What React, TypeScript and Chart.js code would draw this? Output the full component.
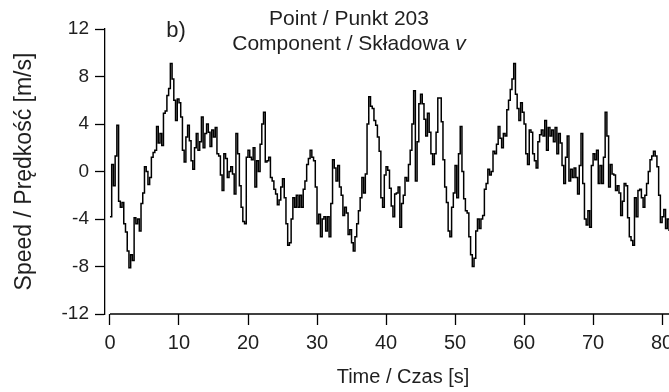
import React, { useEffect, useRef } from "react";
import { Chart, registerables } from "chart.js";

Chart.register(...registerables);

// Sampling step of the record [s]
const SAMPLE_STEP_S = 0.25;

// Speed v [m/s], 4 samples per second
const SPEED_00_20 = [
  -3.8, 0.6, -1.2, 1.3,
  3.9, -2.5, -3.0, -2.6,
  -4.4, -5.1, -6.7, -8.1,
  -7.0, -7.5, -3.9, -4.4,
  -4.0, -5.0, -2.7, -1.8,
  0.4, 0.0, -1.1, -0.5,
  1.2, 1.6, 1.8, 3.8,
  2.4, 3.2, 2.2, 4.9,
  5.1, 6.4, 7.0, 9.1,
  7.8, 6.0, 4.3, 6.1,
  5.8, 4.6, 1.8, 0.8,
  2.9, 3.9, 2.6, 0.9,
  0.2, 2.0, 3.2, 1.8,
  2.5, 4.6, 2.0, 3.2,
  4.0, 3.3, 2.1, 3.5,
  2.9, 3.7, 1.5, 1.3,
  -0.3, -1.6, 1.5, 1.1,
  -0.5, 0.0, 0.4, -0.2,
  -1.9, 3.2, 1.5, -1.2,
  -3.0, -4.2, -4.4, 1.2,
];

const SPEED_20_40 = [
  1.8, 1.2, 1.0, 2.0,
  -1.3, 0.9, 0.0, 2.3,
  4.0, 5.0, 0.8, 0.9,
  1.2, -0.5, -0.8, -1.5,
  -1.9, -2.8, -2.4, -1.3,
  -0.6, -2.2, -4.4, -6.2,
  -6.0, -4.0, -2.2, -3.0,
  -2.0, -3.0, -2.0, -3.0,
  -1.5, -0.8, 0.6, 1.1,
  1.8, 1.2, 0.9, -1.3,
  -4.4, -3.6, -5.5, -4.0,
  -3.8, -5.0, -3.8, -5.5,
  -2.7, 1.0, 0.3, -0.8,
  0.5, -1.3, -2.0, -3.7,
  -3.0, -3.5, -5.3, -4.9,
  -6.0, -6.7, -5.5, -4.4,
  -3.3, -2.2, -0.5, -1.8,
  -0.2, 4.0, 6.3, 5.5,
  5.3, 4.3, 3.9, 2.9,
  1.7, -2.2, -3.0, -0.3,
];

const SPEED_40_60 = [
  0.4, 0.1, -1.4, -2.9,
  -3.8, -1.9, -1.8, -1.3,
  -4.7, -2.7, -2.0, -0.5,
  -0.8, 0.6, 1.8, 4.0,
  6.8, -0.8, 2.5, 5.7,
  6.5, 5.7, 4.4, 3.0,
  4.9, 3.3, 1.5, 0.6,
  1.5, 3.3, 6.2, 6.2,
  4.2, 1.0, -1.3, -2.6,
  -5.0, -5.5, -3.0, -1.8,
  0.5, -2.2, 1.5, 3.8,
  0.0, -2.3, -3.3, -3.5,
  -5.5, -7.0, -8.0, -7.3,
  -5.0, -4.0, -4.8, -4.0,
  -3.7, -1.5, -1.0, 0.2,
  -0.3, 0.0, 1.7, 1.5,
  2.3, 3.8, 2.8, 2.0,
  3.2, 3.0, 5.2, 6.0,
  6.9, 7.8, 9.1, 6.5,
  5.3, 4.3, 5.8, 5.0,
];

const SPEED_60_81 = [
  4.0, 1.5, 0.6, 3.5,
  3.3, 1.5, 0.9, 0.3,
  2.5, 3.1, 3.5, 3.0,
  4.3, 1.8, 3.7, 3.0,
  3.5, 2.5, 3.7, 1.5,
  3.2, 2.4, 0.5, -1.0,
  1.2, 3.0, -0.8, 0.2,
  -0.5, 0.3, -0.5, -1.9,
  0.5, 3.2, -1.0, -4.0,
  -4.5, -3.3, -4.7, 0.5,
  1.5, 1.0, 1.8, -1.0,
  0.5, -1.0, 1.2, 5.0,
  3.0, -1.3, 0.6, -0.2,
  -0.3, -1.6, -1.2, -1.8,
  -3.7, -2.5, -1.0, -1.2,
  -3.9, -5.5, -5.8, -6.2,
  -2.2, -3.8, -1.6, -1.5,
  -2.2, -3.0, -2.0, -1.0,
  0.0, 1.0, 1.3, 1.7,
  1.3, 0.4, -2.0, -4.3,
  -3.8, -3.2, -4.8, -4.0,
  -5.0,
];

const X_TICKS = [0, 10, 20, 30, 40, 50, 60, 70, 80];
const Y_TICKS = [-12, -8, -4, 0, 4, 8, 12];
const X_MIN = -0.72;
const X_MAX = 81;
const Y_MIN = -12;
const Y_MAX = 12;

const PANEL_LABEL = "b)";
const TITLE_LINE_1 = "Point / Punkt 203";
const TITLE_LINE_2 = "Component / Składowa ";
const TITLE_VAR = "v";
const X_TITLE = "Time / Czas [s]";
const Y_TITLE = "Speed / Prędkość [m/s]";

const FONT = '"Liberation Sans", Arial, Helvetica, sans-serif';
const TEXT_COLOR = "#1f1f1f";

const annotationPlugin = {
  id: "panelAnnotations",
  afterDraw(chart: any) {
    const { ctx, chartArea, scales } = chart;
    const x = scales.x;
    ctx.save();
    // x-axis line, starting at t = 0
    ctx.strokeStyle = "#000";
    ctx.lineWidth = 1.3;
    ctx.beginPath();
    ctx.moveTo(x.getPixelForValue(0), chartArea.bottom);
    ctx.lineTo(chartArea.right, chartArea.bottom);
    ctx.stroke();

    ctx.fillStyle = TEXT_COLOR;
    ctx.textBaseline = "middle";

    // panel label
    ctx.font = `22px ${FONT}`;
    ctx.textAlign = "center";
    ctx.fillText(PANEL_LABEL, chartArea.left + 71, chartArea.top + 1.5);

    // two-line title
    const cx = chartArea.left + 244;
    ctx.font = `21px ${FONT}`;
    ctx.fillText(TITLE_LINE_1, cx, chartArea.top - 10);

    const w1 = ctx.measureText(TITLE_LINE_2).width;
    ctx.font = `italic 21px ${FONT}`;
    const w2 = ctx.measureText(TITLE_VAR).width;
    const start = cx - (w1 + w2) / 2;
    ctx.textAlign = "left";
    ctx.font = `21px ${FONT}`;
    ctx.fillText(TITLE_LINE_2, start, chartArea.top + 15);
    ctx.font = `italic 21px ${FONT}`;
    ctx.fillText(TITLE_VAR, start + w1, chartArea.top + 15);

    // x-axis title
    ctx.textAlign = "center";
    ctx.font = `20px ${FONT}`;
    ctx.fillText(X_TITLE, chartArea.left + 298, chartArea.bottom + 63.5);
    ctx.restore();
  },
};

export default function App() {
  const canvasRef = useRef<HTMLCanvasElement | null>(null);

  useEffect(() => {
    document.body.style.margin = "0";
    const canvas = canvasRef.current;
    if (!canvas) return;

    const speed = [...SPEED_00_20, ...SPEED_20_40, ...SPEED_40_60, ...SPEED_60_81];
    const points = speed.map((v, i) => ({ x: i * SAMPLE_STEP_S, y: v }));

    const chart = new Chart(canvas, {
      type: "line",
      data: {
        datasets: [
          {
            data: points,
            borderColor: "#000",
            borderWidth: 1.5,
            pointRadius: 0,
            stepped: "before",
            fill: false,
          },
        ],
      },
      options: {
        animation: false,
        responsive: false,
        devicePixelRatio: 1,
        layout: { padding: { top: 29, left: 0, right: 0, bottom: 0 } },
        plugins: {
          legend: { display: false },
          tooltip: { enabled: false },
          title: { display: false },
        },
        scales: {
          x: {
            type: "linear",
            min: X_MIN,
            max: X_MAX,
            afterBuildTicks: (s: any) => {
              s.ticks = X_TICKS.map((v) => ({ value: v }));
            },
            afterFit: (s: any) => {
              s.height = 78;
              s.paddingLeft = 0;
              s.paddingRight = 0;
            },
            border: { display: false },
            grid: {
              drawOnChartArea: false,
              drawTicks: true,
              tickLength: 11,
              tickWidth: 1.3,
              tickColor: "#000",
            },
            ticks: {
              color: TEXT_COLOR,
              font: { family: FONT, size: 20 },
              padding: 6,
              maxRotation: 0,
            },
            title: { display: false },
          },
          y: {
            type: "linear",
            min: Y_MIN,
            max: Y_MAX,
            afterBuildTicks: (s: any) => {
              s.ticks = Y_TICKS.map((v) => ({ value: v }));
            },
            afterFit: (s: any) => {
              s.width = 105;
              s.paddingTop = 0;
              s.paddingBottom = 0;
            },
            border: { display: true, color: "#000", width: 1.3 },
            grid: {
              drawOnChartArea: false,
              drawTicks: true,
              tickLength: 10,
              tickWidth: 1.3,
              tickColor: "#000",
            },
            ticks: {
              color: TEXT_COLOR,
              font: { family: FONT, size: 19 },
              padding: 6,
            },
            title: {
              display: true,
              text: Y_TITLE,
              color: TEXT_COLOR,
              font: { family: FONT, size: 23 },
              padding: { top: 11, bottom: 0 },
            },
          },
        },
      },
      plugins: [annotationPlugin],
    });

    return () => chart.destroy();
  }, []);

  return (
    <canvas
      ref={canvasRef}
      width={669}
      height={392}
      style={{ display: "block", width: 669, height: 392 }}
    />
  );
}
